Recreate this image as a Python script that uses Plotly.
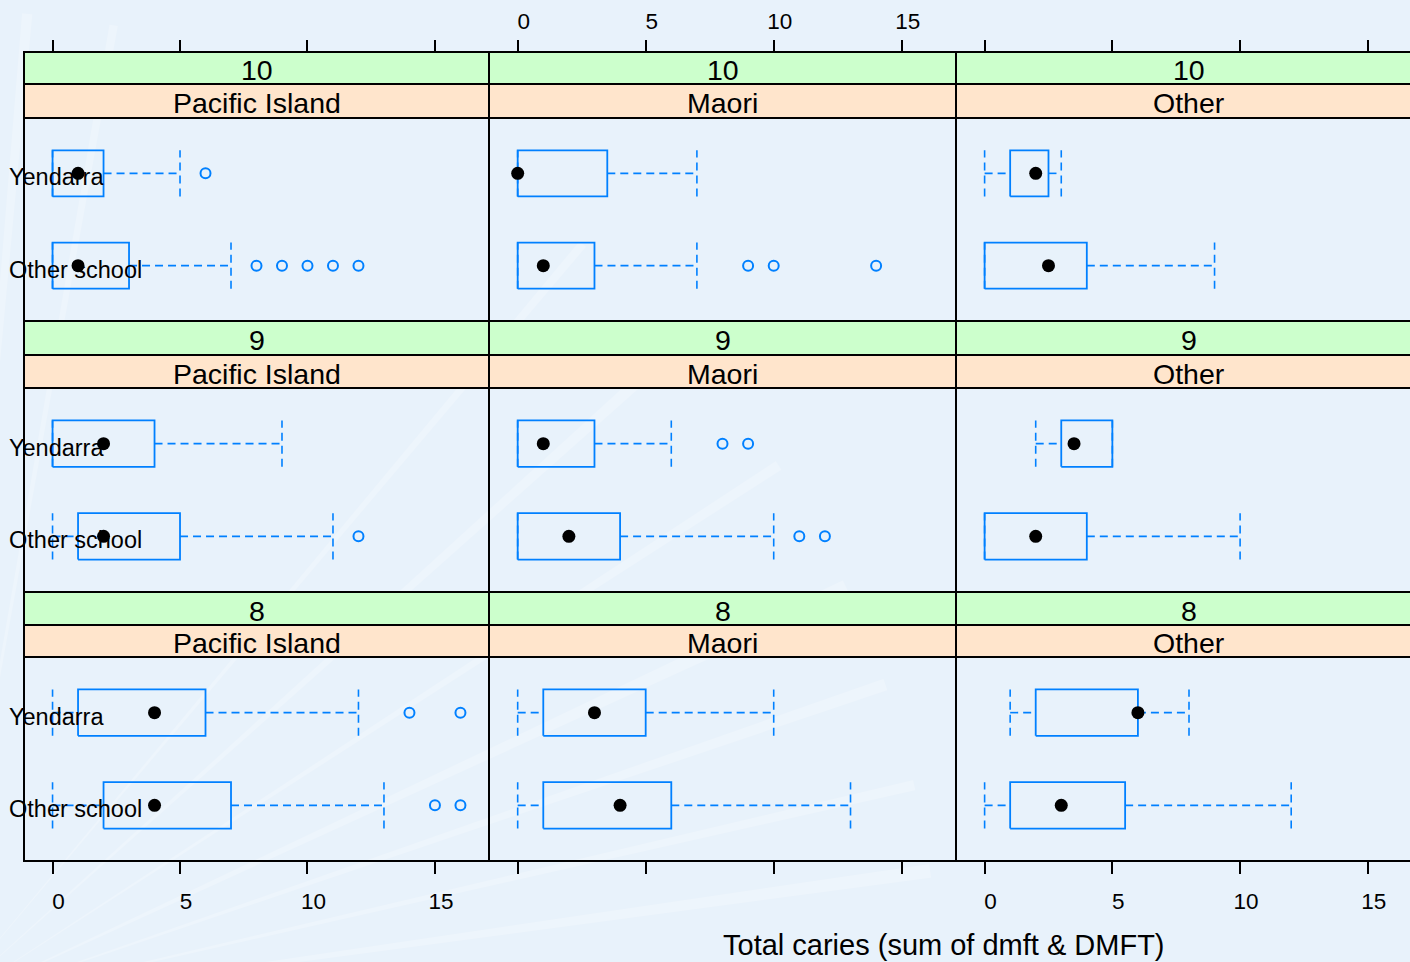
import math
import plotly.graph_objects as go

W, H = 1410, 962

# ---------------- data ----------------
ages = [10, 9, 8]                               # panel rows, top to bottom
ethnicities = ["Pacific Island", "Maori", "Other"]   # panel columns
schools = ["Other school", "Yendarra"]          # y categories (bottom to top)
x_ticks = [0, 5, 10, 15]
x_title = "Total caries (sum of dmft & DMFT)"

box_age = [10] * 6 + [9] * 6 + [8] * 6
box_eth = ["Pacific Island", "Pacific Island", "Maori", "Maori", "Other", "Other"] * 3
box_school = ["Yendarra", "Other school"] * 9
lower_whisker = [0, 0, 0, 0, 0, 0,   0, 0, 0, 0, 2, 0,   0, 0, 0, 0, 1, 0]
q1 =            [0, 0, 0, 0, 1, 0,   0, 1, 0, 0, 3, 0,   1, 2, 1, 1, 2, 1]
median =        [1, 1, 0, 1, 2, 2.5, 2, 2, 1, 2, 3.5, 2, 4, 4, 3, 4, 6, 3]
q3 =            [2, 3, 3.5, 3, 2.5, 4, 4, 5, 3, 4, 5, 4, 6, 7, 5, 6, 6, 5.5]
upper_whisker = [5, 7, 7, 7, 3, 9,   9, 11, 6, 10, 5, 10, 12, 13, 10, 13, 8, 12]
outliers = [[6], [8, 9, 10, 11, 12], [], [9, 10, 14], [], [],
            [], [12], [8, 9], [11, 12], [], [],
            [14, 16], [15, 16], [], [], [], []]

# ---------------- styling / layout ----------------
BLUE = "#0080ff"
BG = "#E8F2FB"
FONT = "Liberation Sans"
col_px = [(24, 489), (489, 956), (956, 1422)]
col_range = [[-1.12, 17.12], [-1.12, 17.12], [-1.12, 16.65]]
row_strip_top = [52, 321, 592]
row_strip_mid = [84, 355, 625]
row_panel_top = [118, 388, 657]
row_panel_bot = [321, 592, 861]
HALF = 0.25
STRIP_FONT = 28.5
TITLE_FONT = 29
TICK_FONT = 22.5
LABEL_FONT = 23.5


def px(x):
    return x / W


def py(y):
    return 1 - y / H


fig = go.Figure()
layout = {}

for r in range(3):
    for c in range(3):
        k = r * 3 + c + 1
        xa = "xaxis" if k == 1 else f"xaxis{k}"
        ya = "yaxis" if k == 1 else f"yaxis{k}"
        xd = [px(col_px[c][0]), min(1.0, px(col_px[c][1]))]
        yd = [py(row_panel_bot[r]), py(row_panel_top[r])]
        xconf = dict(domain=xd, range=col_range[c], tickvals=x_ticks,
                     showgrid=False, zeroline=False, showline=False,
                     tickfont=dict(family=FONT, size=TICK_FONT, color="black"),
                     tickcolor="black", tickwidth=1.5, ticklen=12,
                     ticklabelshift=6, fixedrange=True)
        if r == 0:
            xconf.update(side="top", anchor="free", position=py(52), ticks="outside",
                         showticklabels=(c == 1), ticklabelstandoff=2)
        elif r == 2:
            xconf.update(anchor="y" if k == 1 else f"y{k}", ticks="outside",
                         showticklabels=(c != 1), ticklabelstandoff=8)
        else:
            xconf.update(anchor="y" if k == 1 else f"y{k}", ticks="",
                         showticklabels=False)
        layout[xa] = xconf
        layout[ya] = dict(domain=yd, range=[0.4, 2.6], anchor="x" if k == 1 else f"x{k}",
                          showgrid=False, zeroline=False, showline=False,
                          showticklabels=False, ticks="", fixedrange=True)

for i in range(len(box_age)):
    r = ages.index(box_age[i])
    c = ethnicities.index(box_eth[i])
    k = r * 3 + c + 1
    xr = "x" if k == 1 else f"x{k}"
    yr = "y" if k == 1 else f"y{k}"
    yv = schools.index(box_school[i]) + 1
    lo, a, m, b, hi = lower_whisker[i], q1[i], median[i], q3[i], upper_whisker[i]
    dash = dict(color=BLUE, width=1.6, dash="8px,5px")
    # whiskers
    fig.add_trace(go.Scatter(x=[lo, a, None, b, hi], y=[yv, yv, None, yv, yv],
                             mode="lines", line=dash, xaxis=xr, yaxis=yr,
                             showlegend=False, hoverinfo="skip"))
    # whisker caps
    fig.add_trace(go.Scatter(x=[lo, lo, None, hi, hi],
                             y=[yv - HALF, yv + HALF, None, yv - HALF, yv + HALF],
                             mode="lines", line=dash, xaxis=xr, yaxis=yr,
                             showlegend=False, hoverinfo="skip"))
    # box
    fig.add_trace(go.Scatter(x=[a, b, b, a, a],
                             y=[yv - HALF, yv - HALF, yv + HALF, yv + HALF, yv - HALF],
                             mode="lines", line=dict(color=BLUE, width=1.8),
                             xaxis=xr, yaxis=yr, showlegend=False, hoverinfo="skip"))
    # outliers
    if outliers[i]:
        fig.add_trace(go.Scatter(x=outliers[i], y=[yv] * len(outliers[i]), mode="markers",
                                 marker=dict(symbol="circle-open", size=10, color=BLUE,
                                             line=dict(width=2, color=BLUE)),
                                 xaxis=xr, yaxis=yr, showlegend=False, hoverinfo="skip"))
    # median dot
    fig.add_trace(go.Scatter(x=[m], y=[yv], mode="markers",
                             marker=dict(symbol="circle", size=13, color="black"),
                             xaxis=xr, yaxis=yr, showlegend=False, hoverinfo="skip"))

shapes = []
annotations = []

# very faint decorative light streaks in the background (radiating from lower left)
ox, oy = -60, 1010
for ang, wid in [(8, 0.8), (13, 0.6), (19, 0.7), (25, 0.9), (33, 0.6), (42, 0.7),
                 (50, 0.5), (80, 0.5), (85, 0.6)]:
    a1, a2 = math.radians(ang - wid / 2), math.radians(ang + wid / 2)
    L = 1000
    p1 = (ox + L * math.cos(a1), oy - L * math.sin(a1))
    p2 = (ox + L * math.cos(a2), oy - L * math.sin(a2))
    path = (f"M {px(ox):.4f},{py(oy):.4f} L {px(p1[0]):.4f},{py(p1[1]):.4f} "
            f"L {px(p2[0]):.4f},{py(p2[1]):.4f} Z")
    shapes.append(dict(type="path", xref="paper", yref="paper", path=path,
                       fillcolor="rgba(255,255,255,0.22)", line=dict(width=0), layer="below"))

for r in range(3):
    for c in range(3):
        x0, x1 = px(col_px[c][0]), px(col_px[c][1])
        # strips
        shapes.append(dict(type="rect", xref="paper", yref="paper", x0=x0, x1=x1,
                           y0=py(row_strip_mid[r]), y1=py(row_strip_top[r]),
                           fillcolor="#CCFFCC", line=dict(color="black", width=2), layer="below"))
        shapes.append(dict(type="rect", xref="paper", yref="paper", x0=x0, x1=x1,
                           y0=py(row_panel_top[r]), y1=py(row_strip_mid[r]),
                           fillcolor="#FFE5CC", line=dict(color="black", width=2), layer="below"))
        # panel border
        shapes.append(dict(type="rect", xref="paper", yref="paper", x0=x0, x1=x1,
                           y0=py(row_panel_bot[r]), y1=py(row_panel_top[r]),
                           fillcolor="rgba(0,0,0,0)", line=dict(color="black", width=2),
                           layer="above"))
        xc = (col_px[c][0] + col_px[c][1]) / 2
        annotations.append(dict(text=str(ages[r]), xref="paper", yref="paper", x=px(xc),
                                y=py((row_strip_top[r] + row_strip_mid[r]) / 2 + 2),
                                showarrow=False, xanchor="center", yanchor="middle",
                                font=dict(family=FONT, size=STRIP_FONT, color="black")))
        annotations.append(dict(text=ethnicities[c], xref="paper", yref="paper", x=px(xc),
                                y=py((row_strip_mid[r] + row_panel_top[r]) / 2 + 2),
                                showarrow=False, xanchor="center", yanchor="middle",
                                font=dict(family=FONT, size=STRIP_FONT, color="black")))
    # y category labels (left column)
    k = r * 3 + 1
    yr = "y" if k == 1 else f"y{k}"
    for j, s in enumerate(schools):
        annotations.append(dict(text=s, xref="paper", yref=yr, x=px(7), y=j + 1,
                                yshift=-4, showarrow=False, xanchor="left", yanchor="middle",
                                font=dict(family=FONT, size=LABEL_FONT, color="black")))

annotations.append(dict(text=x_title, xref="paper", yref="paper", x=px(944), y=py(945),
                        showarrow=False, xanchor="center", yanchor="middle",
                        font=dict(family=FONT, size=TITLE_FONT, color="black")))

fig.update_layout(width=W, height=H, margin=dict(l=0, r=0, t=0, b=0),
                  paper_bgcolor=BG, plot_bgcolor="rgba(0,0,0,0)", showlegend=False,
                  shapes=shapes, annotations=annotations, **layout)

fig.write_html("out.html", config={"displayModeBar": False},
               post_script="document.body.style.margin='0';"
                           "document.body.style.background='#E8F2FB';")
